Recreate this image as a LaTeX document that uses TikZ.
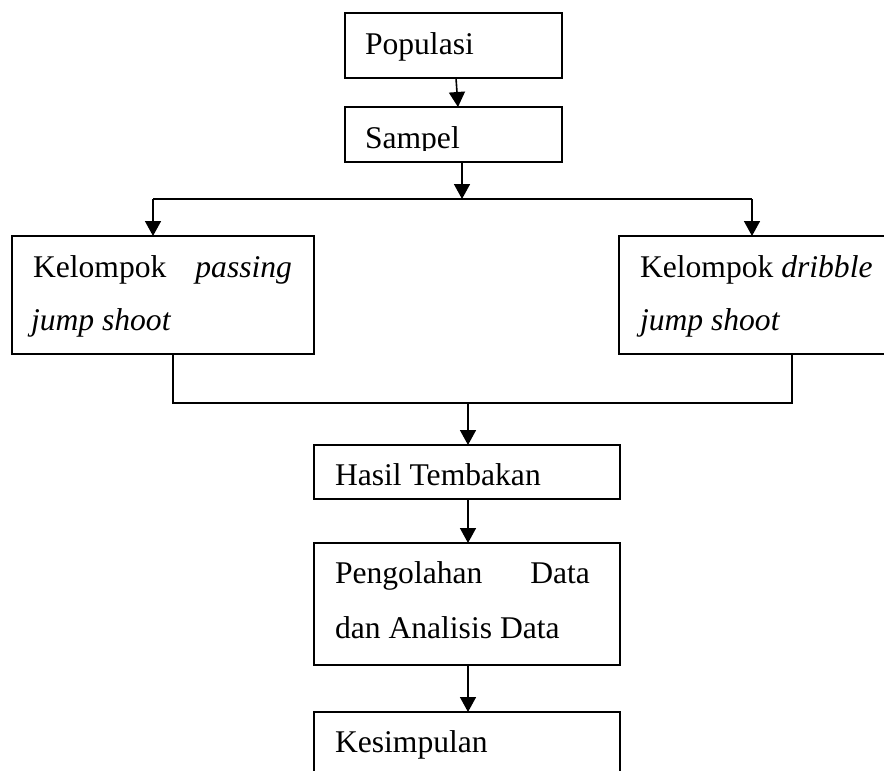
\documentclass[tikz,border=0pt]{standalone}
\usepackage{fontspec}
\setmainfont{Liberation Serif}
\usetikzlibrary{arrows.meta}
\begin{document}
\begin{tikzpicture}[x=1pt,y=-1pt,
  box/.style={draw,line width=1.6pt,anchor=north west,inner sep=0pt,outer sep=0pt},
  txt/.style={font=\fontsize{31.6}{38}\selectfont,inner sep=0pt,outer sep=0pt},
  ln/.style={line width=1.6pt},
  arr/.style={line width=1.6pt,-{Triangle[width=16pt,length=15pt]}}]
\useasboundingbox (0,0) rectangle (884,771);
% boxes
\node[box,minimum width=217pt,minimum height=65pt] (pop) at (345,13) {};
\node[box,minimum width=217pt,minimum height=55pt] (sam) at (345,107) {};
\node[box,minimum width=302pt,minimum height=118pt] (lft) at (12,236) {};
\node[box,minimum width=290pt,minimum height=118pt] (rgt) at (619,236) {};
\node[box,minimum width=306pt,minimum height=54pt] (has) at (314,445) {};
\node[box,minimum width=306pt,minimum height=122pt] (olh) at (314,543) {};
\node[box,minimum width=306pt,minimum height=90pt] (kes) at (314,712) {};
% texts
\node[txt,anchor=base west] (tpop) at (365,54) {Populasi};
\begin{scope}
\clip (346,108) rectangle (560,150);
\node[txt,anchor=base west] (tsam) at (365,148) {Sampel};
\end{scope}
\node[txt,anchor=base west] (tl1) at (33,277) {Kelompok};
\node[txt,anchor=base east] (tl2) at (292,277) {\itshape passing};
\node[txt,anchor=base west] (tl3) at (31,330) {\itshape jump shoot};
\node[txt,anchor=base west] (tr1) at (640,277) {Kelompok \itshape dribble};
\node[txt,anchor=base west] (tr3) at (640,330) {\itshape jump shoot};
\node[txt,anchor=base west] (th) at (335,485) {Hasil Tembakan};
\node[txt,anchor=base west] (to1) at (335,583) {Pengolahan};
\node[txt,anchor=base east] (to2) at (590,583) {Data};
\node[txt,anchor=base west] (to3) at (335,638) {dan Analisis Data};
\node[txt,anchor=base west] (tk) at (335,752) {Kesimpulan};
% coordinates
\coordinate (p1) at (456,78);
\coordinate (s1) at (458,107);
\coordinate (s2) at (462,162);
\coordinate (j1) at (462,199);
\coordinate (hl) at (153,199);
\coordinate (hr) at (752,199);
\coordinate (hlb) at (153,236);
\coordinate (hrb) at (752,236);
\coordinate (l1) at (173,354);
\coordinate (l2) at (173,403);
\coordinate (r1) at (792,354);
\coordinate (r2) at (792,403);
\coordinate (m1) at (468,403);
\coordinate (m2) at (468,445);
\coordinate (m3) at (468,499);
\coordinate (m4) at (468,543);
\coordinate (m5) at (468,665);
\coordinate (m6) at (468,712);
% connectors
\draw[arr] (p1) -- (s1);
\draw[arr] (s2) -- (j1);
\draw[ln] (hl) -- (hr);
\draw[arr] (hl) -- (hlb);
\draw[arr] (hr) -- (hrb);
\draw[ln] (l1) -- (l2) -- (r2) -- (r1);
\draw[arr] (m1) -- (m2);
\draw[arr] (m3) -- (m4);
\draw[arr] (m5) -- (m6);
\end{tikzpicture}
\end{document}
